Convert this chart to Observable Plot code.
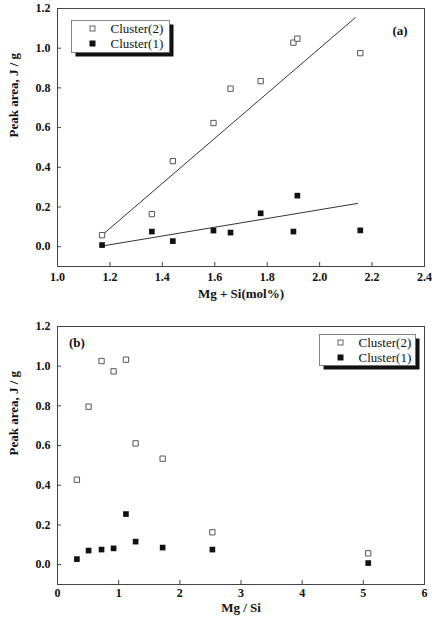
<!DOCTYPE html>
<html>
<head>
<meta charset="utf-8">
<script src="https://cdn.jsdelivr.net/npm/d3@7"></script>
<script src="https://cdn.jsdelivr.net/npm/@observablehq/plot@0.6"></script>
<style>
  html, body { margin: 0; padding: 0; background: #fff; }
  #wrap { width: 432px; height: 618px; overflow: hidden; }
  #wrap svg { display: block; }
  #wrap svg, #wrap svg text { font-family: 'Liberation Serif', 'DejaVu Serif', serif !important; }
</style>
</head>
<body>
<div id="wrap"></div>
<script>
// ---- data ----
const seriesNames = ["Cluster(2)", "Cluster(1)"];
const panelTags = ["(a)", "(b)"];
const yTitle = "Peak area, J / g";
const xTitleA = "Mg + Si(mol%)";
const xTitleB = "Mg / Si";

// panel (a): Mg + Si (mol%)
const mgPlusSi = [1.17, 1.36, 1.44, 1.595, 1.66, 1.775, 1.90, 1.915, 2.155];
const cluster2A = [0.058, 0.164, 0.431, 0.623, 0.796, 0.834, 1.028, 1.048, 0.975];
const cluster1A = [0.008, 0.076, 0.028, 0.081, 0.071, 0.168, 0.076, 0.257, 0.082];
// fitted lines (end points)
const fit2X = [1.17, 2.136];
const fit2Y = [0.058, 1.154];
const fit1X = [1.17, 2.145];
const fit1Y = [0.003, 0.218];

// panel (b): Mg / Si
const mgSiRatio = [0.317, 0.508, 0.72, 0.917, 1.119, 1.277, 1.719, 2.532, 5.08];
const cluster2B = [0.428, 0.796, 1.026, 0.974, 1.033, 0.611, 0.534, 0.163, 0.057];
const cluster1B = [0.028, 0.071, 0.076, 0.082, 0.255, 0.116, 0.086, 0.076, 0.008];

// ticks
const xTicksA = [1.0, 1.2, 1.4, 1.6, 1.8, 2.0, 2.2, 2.4];
const xTicksB = [0, 1, 2, 3, 4, 5, 6];
const yTicks = [0.0, 0.2, 0.4, 0.6, 0.8, 1.0, 1.2];

const pts = (xs, ys) => xs.map((x, i) => ({x, y: ys[i]}));

const FONT = "'Liberation Serif', 'DejaVu Serif', serif";
const openStroke = "#555";
const ink = "#111";
const lineColor = "#333";

function panel({xDomain, xTicks, xFmt, xTitle, titleDy, xPad, c2, c1, fits, height, marginTop, marginBottom}) {
  const marks = [
    Plot.frame({stroke: "#444", strokeWidth: 1}),
    // inward ticks
    Plot.axisX(xTicks, {tickSize: 4, dy: -4, text: null, label: null, stroke: "#444"}),
    Plot.axisY(yTicks, {tickSize: 4, dx: 4, text: null, label: null, stroke: "#444"}),
    // labels
    Plot.axisX(xTicks, {tickSize: 0, tickPadding: xPad, tickFormat: xFmt, fontWeight: "bold", fontSize: 12, fill: ink, label: null}),
    Plot.axisY(yTicks, {tickSize: 0, tickPadding: 7, tickFormat: d3.format(".1f"), fontWeight: "bold", fontSize: 12, fill: ink, label: null}),
    Plot.text([xTitle], {frameAnchor: "bottom", dy: titleDy, text: d => d, fontWeight: "bold", fontSize: 13, fill: ink}),
    Plot.text([yTitle], {frameAnchor: "left", dx: -44, rotate: -90, text: d => d, fontWeight: "bold", fontSize: 13, fill: ink}),
  ];
  for (const f of fits) marks.push(Plot.line(f, {x: "x", y: "y", stroke: lineColor, strokeWidth: 1}));
  marks.push(Plot.dot(c2, {x: "x", y: "y", symbol: "square", r: 3, stroke: openStroke, strokeWidth: 1, fill: "white"}));
  marks.push(Plot.dot(c1, {x: "x", y: "y", symbol: "square", r: 3.2, fill: ink, stroke: "none"}));
  return Plot.plot({
    width: 432,
    height,
    marginLeft: 57,
    marginRight: 8,
    marginTop,
    marginBottom,
    style: {fontFamily: FONT, fontSize: "12px", background: "white", color: ink},
    x: {domain: xDomain, axis: null},
    y: {domain: [-0.1, 1.2], axis: null},
    marks
  });
}

function addLegend(svg, bx, by, bw, bh, tag, tagX, tagY, tagAnchor) {
  const g = d3.select(svg).append("g").attr("font-family", FONT).attr("text-anchor", "start");
  g.append("rect").attr("x", bx + 4).attr("y", by + 4).attr("width", bw).attr("height", bh).attr("fill", "#111");
  g.append("rect").attr("x", bx).attr("y", by).attr("width", bw).attr("height", bh).attr("fill", "white").attr("stroke", "#666").attr("stroke-width", 0.8);
  const mx = bx + 21, tx = bx + 39;
  seriesNames.forEach((name, i) => {
    const cy = by + 8 + i * 15;
    if (i === 0) {
      g.append("rect").attr("x", mx - 2.5).attr("y", cy - 2.5).attr("width", 5).attr("height", 5).attr("fill", "white").attr("stroke", openStroke).attr("stroke-width", 0.9);
    } else {
      g.append("rect").attr("x", mx - 3).attr("y", cy - 3).attr("width", 6).attr("height", 6).attr("fill", ink);
    }
    g.append("text").attr("x", tx).attr("y", cy + 4.5).attr("text-anchor", "start").attr("font-size", 13).attr("fill", ink).text(name);
  });
  g.append("text").attr("x", tagX).attr("y", tagY).attr("text-anchor", tagAnchor).attr("font-size", 13).attr("font-weight", "bold").attr("fill", ink).text(tag);
}

const wrap = document.getElementById("wrap");

const chartA = panel({
  xDomain: [1.0, 2.4], xTicks: xTicksA, xFmt: d3.format(".1f"), xTitle: xTitleA, titleDy: 31, xPad: 6,
  c2: pts(mgPlusSi, cluster2A), c1: pts(mgPlusSi, cluster1A),
  fits: [pts(fit2X, fit2Y), pts(fit1X, fit1Y)],
  height: 310, marginTop: 8, marginBottom: 44
});
wrap.appendChild(chartA);
addLegend(chartA, 71.5, 20.5, 98, 32, panelTags[0], 400, 35, "middle");

const chartB = panel({
  xDomain: [0, 6], xTicks: xTicksB, xFmt: d3.format("d"), xTitle: xTitleB, titleDy: 27, xPad: 4,
  c2: pts(mgSiRatio, cluster2B), c1: pts(mgSiRatio, cluster1B),
  fits: [],
  height: 308, marginTop: 16, marginBottom: 34
});
wrap.appendChild(chartB);
addLegend(chartB, 319.5, 24.5, 96, 31, panelTags[1], 69, 36.5, "start");
</script>
</body>
</html>
